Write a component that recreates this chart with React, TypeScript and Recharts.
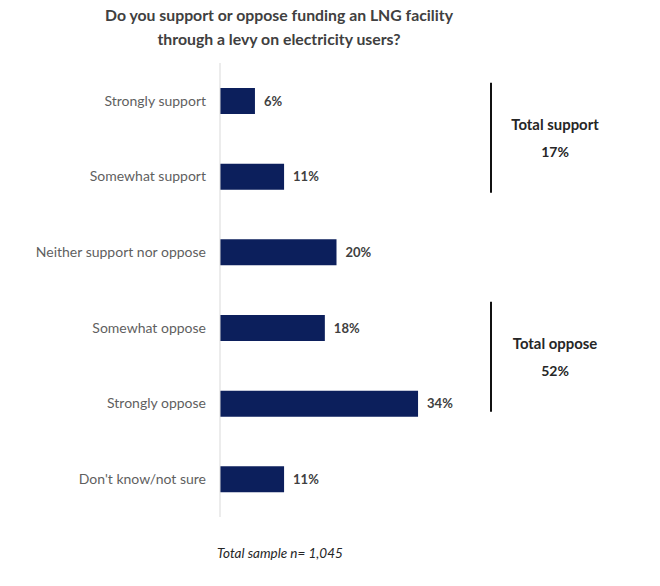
import { Bar, BarChart, LabelList, XAxis, YAxis } from "recharts";

const categories = [
  "Strongly support",
  "Somewhat support",
  "Neither support nor oppose",
  "Somewhat oppose",
  "Strongly oppose",
  "Don't know/not sure",
];
const shares = [6, 11, 20, 18, 34, 11];
const groupTotals = [
  { label: "Total support", value: 17, from: 0, to: 1 },
  { label: "Total oppose", value: 52, from: 3, to: 4 },
];
const titleLines = ["Do you support or oppose funding an LNG facility", "through a levy on electricity users?"];
const footnote = "Total sample n= 1,045";

const data = categories.map((name, i) => ({ name, share: shares[i] }));

const W = 660;
const H = 586;
const M = { top: 63, right: 207, bottom: 69, left: 0 };
const FONT = "Lato, 'Open Sans', sans-serif";
const band = (H - M.top - M.bottom) / categories.length;
// brackets sit a little off the row centres in the original slide
const bracketShift = [-1, -9];

export default function App() {
  return (
    <div style={{ position: "absolute", top: 0, left: 0, width: W, height: H, background: "#fff", fontFamily: FONT }}>
      <BarChart width={W} height={H} data={data} layout="vertical" margin={M}>
        <XAxis type="number" domain={[0, 40]} hide />
        <YAxis
          type="category"
          dataKey="name"
          width={220}
          tickLine={false}
          tickMargin={8}
          axisLine={{ stroke: "#d9d9d9" }}
          tick={{ fill: "#5f5f5f", fontSize: 14, fontFamily: FONT }}
        />
        <Bar dataKey="share" fill="#0c1f5c" barSize={26} isAnimationActive={false}>
          <LabelList
            dataKey="share"
            position="right"
            offset={9}
            formatter={(v: number) => `${v}%`}
            style={{ fill: "#404040", fontSize: 13, fontWeight: 700, fontFamily: FONT }}
          />
        </Bar>
      </BarChart>
      <svg width={W} height={H} style={{ position: "absolute", top: 0, left: 0, pointerEvents: "none" }}>
        {titleLines.map((t, i) => (
          <text key={t} x={279} y={21 + i * 24} textAnchor="middle" fill="#404040" fontSize={15.8} fontWeight={700} fontFamily={FONT}>
            {t}
          </text>
        ))}
        {groupTotals.map((g, i) => {
          const mid = M.top + (band * (g.from + g.to + 1)) / 2 + bracketShift[i];
          return (
            <g key={g.label}>
              <line x1={491} x2={491} y1={mid - 55} y2={mid + 55} stroke="#111" strokeWidth={2} />
              <text x={555} y={mid - 8} textAnchor="middle" fill="#262626" fontSize={14.9} fontWeight={700} fontFamily={FONT}>
                {g.label}
              </text>
              <text x={555} y={mid + 19} textAnchor="middle" fill="#262626" fontSize={14} fontWeight={700} fontFamily={FONT}>
                {g.value}%
              </text>
            </g>
          );
        })}
        <text x={280} y={558} textAnchor="middle" fill="#262626" fontSize={13.5} fontStyle="italic" fontFamily={FONT}>
          {footnote}
        </text>
      </svg>
    </div>
  );
}
